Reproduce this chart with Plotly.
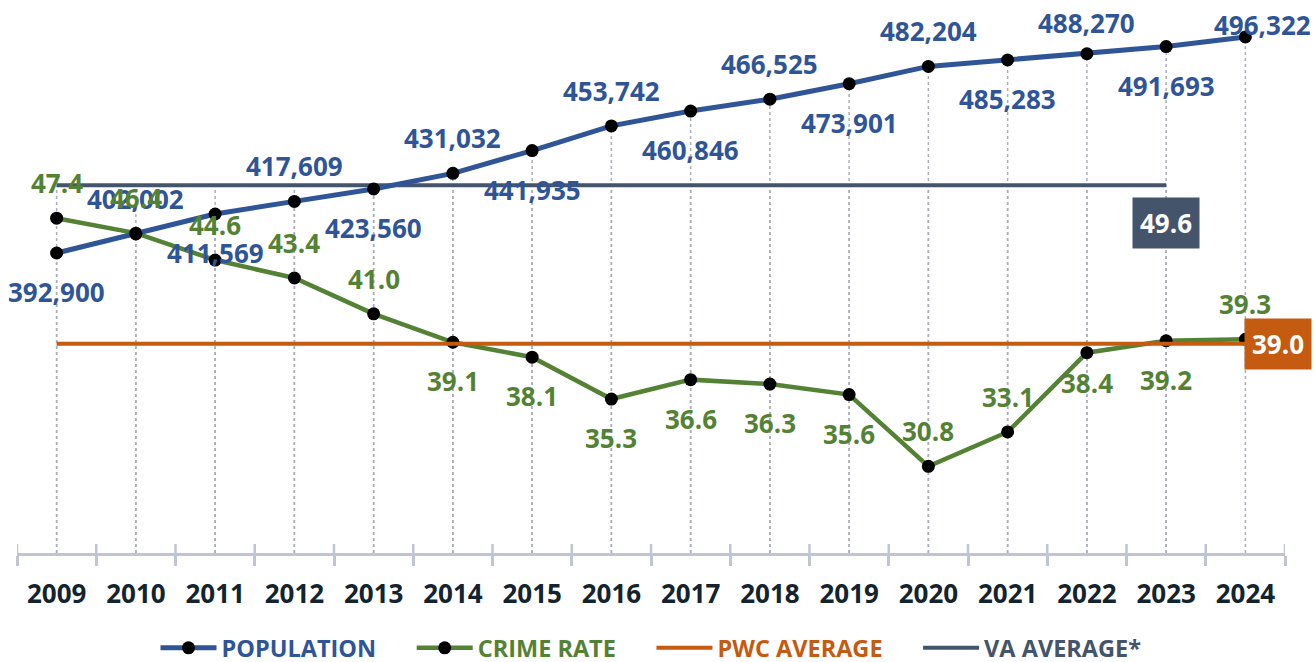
import plotly.graph_objects as go

years = [2009, 2010, 2011, 2012, 2013, 2014, 2015, 2016,
         2017, 2018, 2019, 2020, 2021, 2022, 2023, 2024]
year_labels = [str(y) for y in years]
population = [392900, 402002, 411569, 417609, 423560, 431032, 441935, 453742,
              460846, 466525, 473901, 482204, 485283, 488270, 491693, 496322]
crime_rate = [47.4, 46.4, 44.6, 43.4, 41.0, 39.1, 38.1, 35.3,
              36.6, 36.3, 35.6, 30.8, 33.1, 38.4, 39.2, 39.3]
pwc_average = 39.0
va_average = 49.6
va_years = years[:-1]
series_names = ["POPULATION", "CRIME RATE", "PWC AVERAGE", "VA AVERAGE*"]

# label placement: +1 above, -1 below
pop_label_side = [-1, 1, -1, 1, -1, 1, -1, 1, -1, 1, -1, 1, -1, 1, -1, 1]
crime_label_side = [1, 1, 1, 1, 1, -1, -1, -1, -1, -1, -1, 1, 1, -1, -1, 1]

BLUE = "#2F5597"
GREEN = "#548235"
ORANGE = "#C55A11"
GRAY = "#44546A"
DARK = "#13242F"
AXIS = "#BFC5D3"
DROP = "#A9AEB8"
FONT = "Open Sans"

CR_RANGE = [25, 62]
POP_RANGE = [249300, 514000]
X_RANGE = [years[0] - 0.5, years[-1] + 0.5]
boundaries = [y - 0.5 for y in years] + [years[-1] + 0.5]
PAD = "\u00a0" * 5


def legend_name(label, color, last=False):
    return f"<span style='color:{color}'>{label}</span>" + ("" if last else PAD)


fig = go.Figure()

fig.add_trace(go.Scatter(
    x=years, y=population, yaxis="y2", mode="lines+markers",
    name=legend_name(series_names[0], BLUE),
    line=dict(color=BLUE, width=5),
    marker=dict(color="black", size=13, line=dict(width=0)),
    cliponaxis=False, hoverinfo="skip"))
fig.add_trace(go.Scatter(
    x=years, y=crime_rate, mode="lines+markers",
    name=legend_name(series_names[1], GREEN),
    line=dict(color=GREEN, width=4.5),
    marker=dict(color="black", size=13, line=dict(width=0)),
    cliponaxis=False, hoverinfo="skip"))
fig.add_trace(go.Scatter(
    x=years, y=[pwc_average] * len(years), mode="lines",
    name=legend_name(series_names[2], ORANGE),
    line=dict(color=ORANGE, width=4), hoverinfo="skip"))
fig.add_trace(go.Scatter(
    x=va_years, y=[va_average] * len(va_years), mode="lines",
    name=legend_name(series_names[3], GRAY, last=True),
    line=dict(color=GRAY, width=4), hoverinfo="skip"))

shapes = []
# dotted drop lines from each point to the axis
for yr, p in zip(years, population):
    shapes.append(dict(type="line", xref="x", yref="y2", x0=yr, x1=yr,
                       y0=POP_RANGE[0], y1=p, layer="below",
                       line=dict(color=DROP, width=1.5, dash="dot")))
for yr in va_years:
    shapes.append(dict(type="line", xref="x", yref="y", x0=yr, x1=yr,
                       y0=CR_RANGE[0], y1=va_average, layer="below",
                       line=dict(color=DROP, width=1.5, dash="dot")))
# upper half of the crossing tick marks
for b in boundaries:
    shapes.append(dict(type="line", xref="x", yref="y",
                       x0=b, x1=b, y0=CR_RANGE[0], y1=CR_RANGE[0] + 0.6,
                       line=dict(color=AXIS, width=2.5)))

annotations = []
for yr, p, s in zip(years, population, pop_label_side):
    xs = 17 if yr == 2024 else 0
    ys = 12 if yr == 2024 else (35 if s > 0 else -39)
    if yr == 2022:
        ys = 31
    annotations.append(dict(x=yr, y=p, xref="x", yref="y2", text=f"<b>{p:,}</b>",
                            showarrow=False, xshift=xs, yshift=ys,
                            font=dict(family=FONT, size=26, color=BLUE)))
for yr, c, s in zip(years, crime_rate, crime_label_side):
    ys = 35 if s > 0 else -39
    if yr == 2022:
        ys = -30
    annotations.append(dict(x=yr, y=c, xref="x", yref="y", text=f"<b>{c:.1f}</b>",
                            showarrow=False, yshift=ys,
                            font=dict(family=FONT, size=26, color=GREEN)))
annotations.append(dict(x=va_years[-1], y=va_average, xref="x", yref="y",
                        text=f"<b>{va_average:.1f}</b>",
                        showarrow=False, yshift=-38, bgcolor=GRAY, borderpad=7,
                        font=dict(family=FONT, size=26, color="white")))
annotations.append(dict(x=years[-1], y=pwc_average, xref="x", yref="y",
                        text=f"<b>{pwc_average:.1f}</b>",
                        showarrow=False, xanchor="left", xshift=-1, bgcolor=ORANGE, borderpad=7,
                        font=dict(family=FONT, size=26, color="white")))

fig.update_layout(
    width=1315, height=662,
    margin=dict(l=17, r=30, t=0, b=109),
    paper_bgcolor="white", plot_bgcolor="white",
    showlegend=True,
    legend=dict(orientation="h", x=0.5, xanchor="center", yref="container",
                y=0.021, yanchor="middle", itemwidth=56,
                font=dict(family=FONT, size=23.5, weight="bold")),
    xaxis=dict(range=X_RANGE, tickmode="array", tickvals=years, ticktext=year_labels,
               showline=True, linecolor=AXIS, linewidth=2.5,
               ticks="", showgrid=False, zeroline=False,
               ticklabelstandoff=16,
               minor=dict(tickmode="array", tickvals=boundaries, ticks="outside",
                          ticklen=10, tickwidth=2.5, tickcolor=AXIS, showgrid=False),
               tickfont=dict(family=FONT, size=26, color=DARK, weight="bold")),
    yaxis=dict(range=CR_RANGE, visible=False, showgrid=False, zeroline=False),
    yaxis2=dict(range=POP_RANGE, overlaying="y", visible=False,
                showgrid=False, zeroline=False),
    shapes=shapes, annotations=annotations,
)

fig.write_html("out.html", config={"displayModeBar": False},
               post_script="document.body.style.margin='0';")
